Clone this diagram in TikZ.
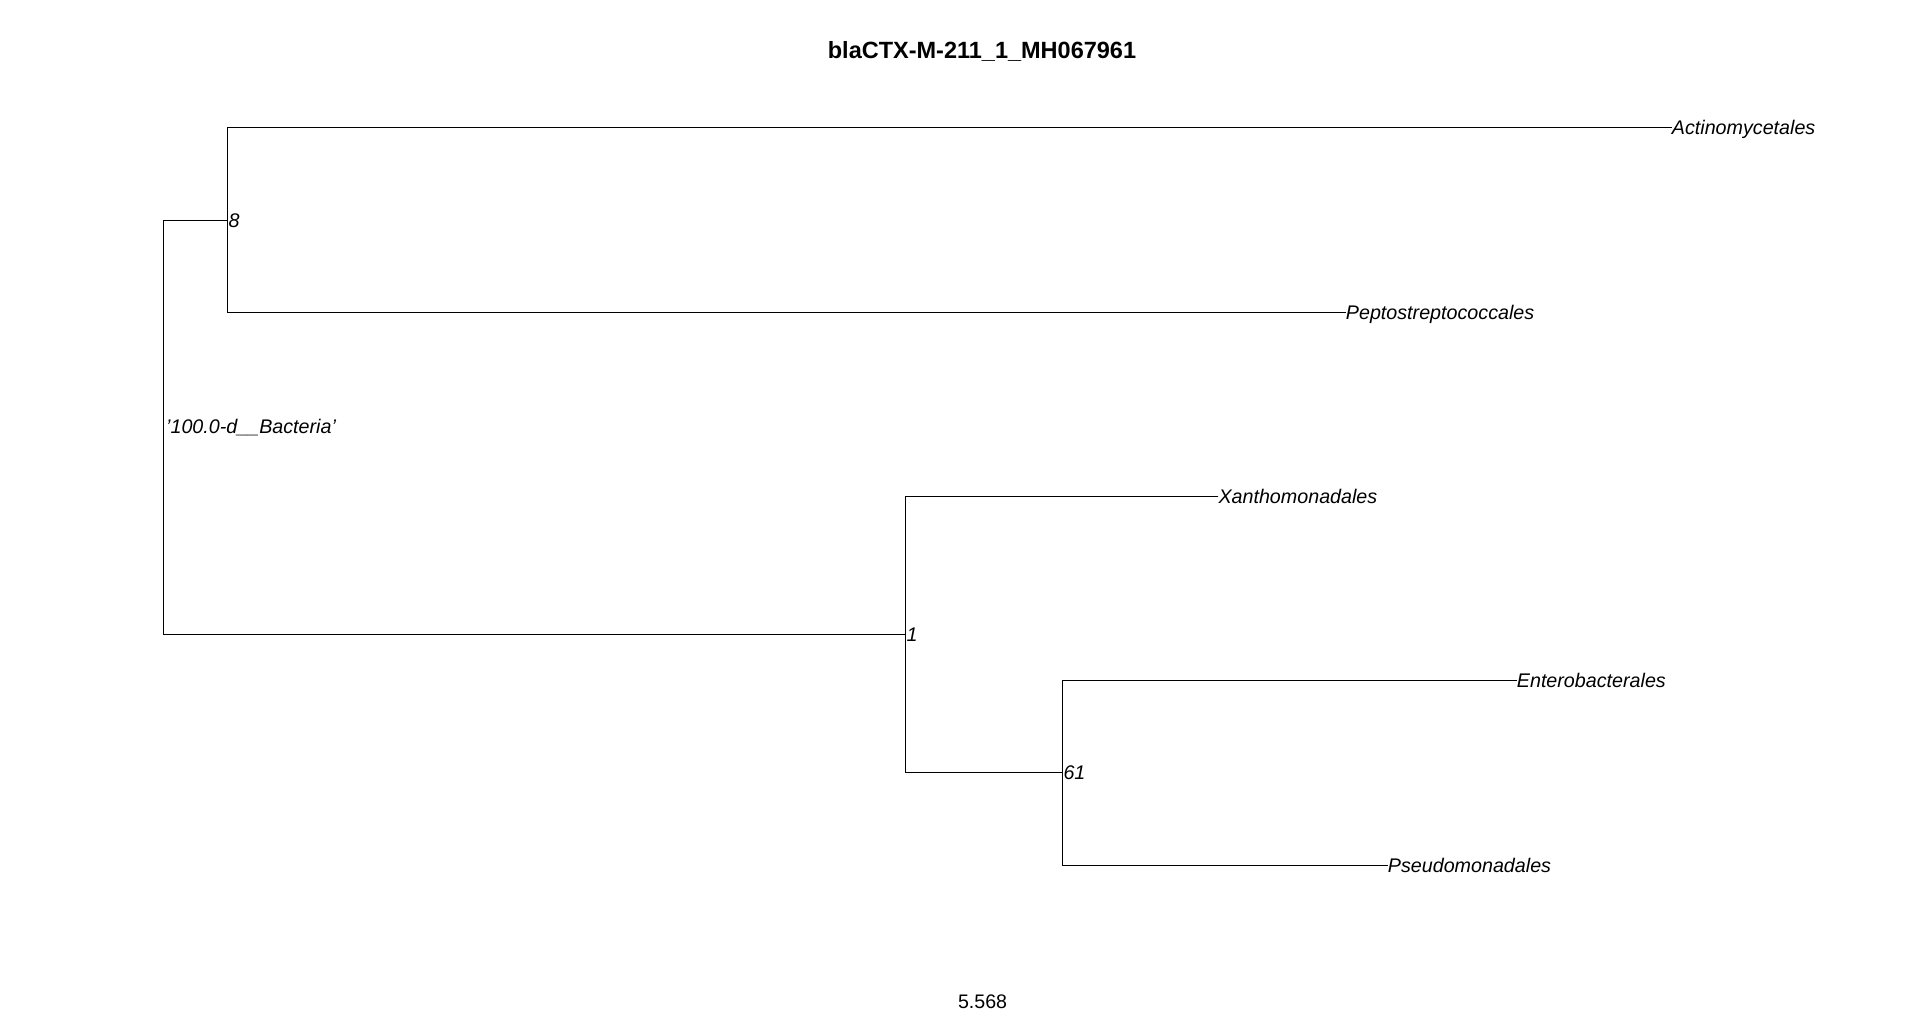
\documentclass[tikz,border=0pt]{standalone}
\usepackage{fontspec}
\setmainfont{Liberation Sans}
\begin{document}
\begin{tikzpicture}[x=1pt,y=-1pt,
  branch/.style={draw=black,line width=1pt},
  tiplabel/.style={anchor=base west,inner sep=0pt,yshift=-7.5pt,
    font=\fontsize{19.7}{23}\selectfont\itshape},
  nodelabel/.style={anchor=base west,inner sep=0pt,xshift=1pt,yshift=-7.5pt,
    font=\fontsize{19.7}{23}\selectfont\itshape},
  titlestyle/.style={anchor=base,inner sep=0pt,
    font=\fontsize{23.5}{28}\selectfont\bfseries},
  scalestyle/.style={anchor=base,inner sep=0pt,
    font=\fontsize{19.6}{23}\selectfont}]
\useasboundingbox[fill=white] (0,0) rectangle (1920,1017);

% internal nodes
\coordinate (root) at (163.3,427.3);
\coordinate (n8)   at (227.3,220.3);
\coordinate (n1)   at (905.3,634.3);
\coordinate (n61)  at (1062.3,772.3);

% tips
\coordinate (act) at (1671.7,127.3);
\coordinate (pep) at (1345.7,312.0);
\coordinate (xan) at (1218.3,496.3);
\coordinate (ent) at (1516.7,680.0);
\coordinate (pse) at (1387.7,865.3);

% branches
\draw[branch] (n8) -| (root) |- (n1);
\draw[branch] (act) -| (n8) |- (pep);
\draw[branch] (xan) -| (n1) |- (n61);
\draw[branch] (ent) -| (n61) |- (pse);

% tip labels
\node[tiplabel] (lact) at (act) {Actinomycetales};
\node[tiplabel] (lpep) at (pep) {Peptostreptococcales};
\node[tiplabel] (lxan) at (xan) {Xanthomonadales};
\node[tiplabel] (lent) at (ent) {Enterobacterales};
\node[tiplabel] (lpse) at (pse) {Pseudomonadales};

% node labels
\node[nodelabel] (l8)  at (n8)  {8};
\node[nodelabel] (l1)  at (n1)  {1};
\node[nodelabel] (l61) at (n61) {61};
\node[nodelabel,xshift=1.7pt,yshift=1pt] (lroot) at (root)
  {\char"27 100.0-d\_\_Bacteria\char"27};

% title and scale
\node[titlestyle] (title) at (982,58.3) {blaCTX-M-211\_1\_MH067961};
\node[scalestyle] (scale) at (982.6,1008) {5.568};
\end{tikzpicture}
\end{document}
